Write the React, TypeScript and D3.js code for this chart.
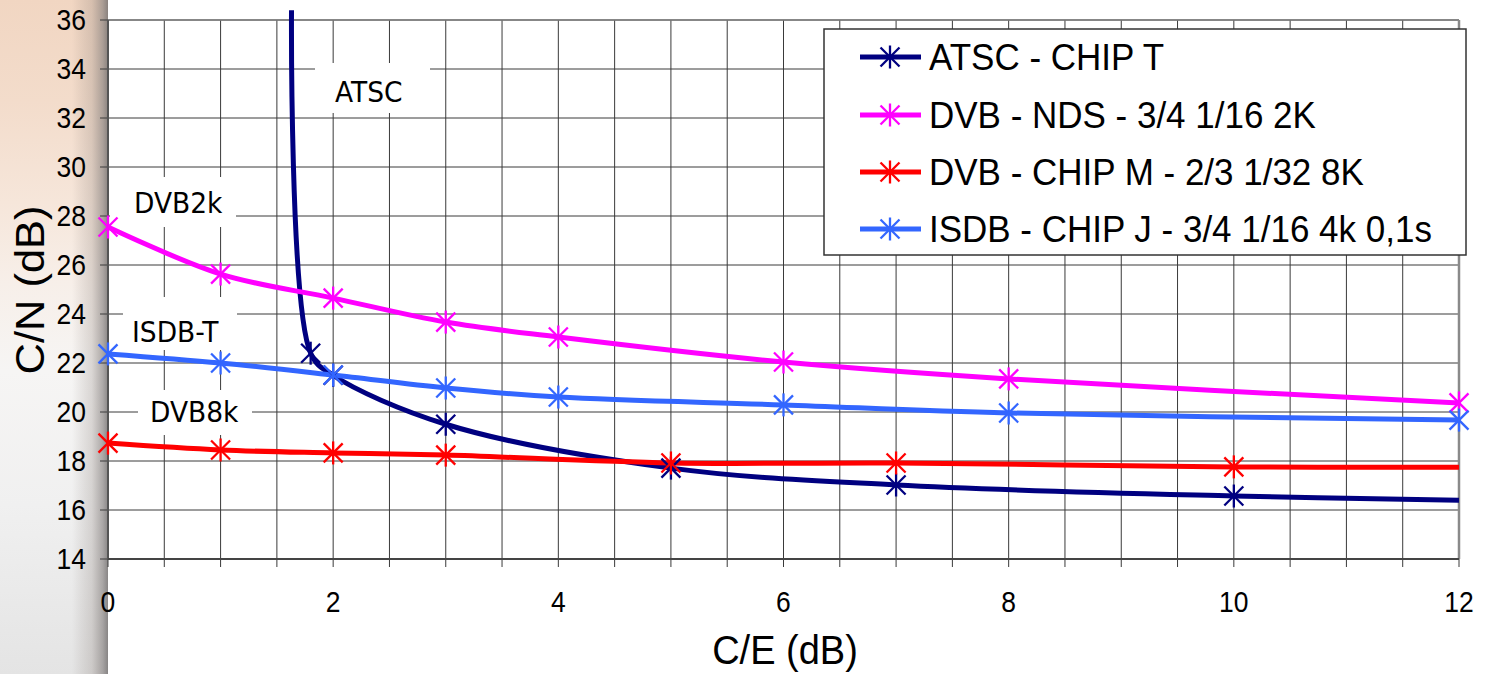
import React, { useEffect } from "react";
import * as d3 from "d3";

// ---------- data ----------
const xTicks = [0, 2, 4, 6, 8, 10, 12];
const yTicks = [14, 16, 18, 20, 22, 24, 26, 28, 30, 32, 34, 36];

const atscX = [1.63, 1.8, 2, 3, 5, 7, 10, 12];
const atscY = [36.4, 22.4, 21.5, 19.5, 17.71, 17.02, 16.57, 16.4];
const atscMarks = [1.8, 2, 3, 5, 7, 10];

const dvbNdsX = [0, 1, 2, 3, 4, 6, 8, 12];
const dvbNdsY = [27.55, 25.63, 24.65, 23.67, 23.06, 22.04, 21.35, 20.37];
const dvbNdsMarks = [0, 1, 2, 3, 4, 6, 8, 12];

const dvbChipX = [0, 1, 2, 3, 5, 7, 10, 12];
const dvbChipY = [18.73, 18.45, 18.33, 18.24, 17.92, 17.92, 17.76, 17.75];
const dvbChipMarks = [0, 1, 2, 3, 5, 7, 10];

const isdbX = [0, 1, 2, 3, 4, 6, 8, 12];
const isdbY = [22.37, 22.0, 21.51, 20.98, 20.61, 20.29, 19.96, 19.67];
const isdbMarks = [0, 1, 2, 3, 4, 6, 8, 12];

const seriesNames = [
  "ATSC - CHIP T",
  "DVB - NDS - 3/4 1/16 2K",
  "DVB - CHIP M - 2/3 1/32 8K",
  "ISDB - CHIP J - 3/4 1/16 4k 0,1s",
];

const annotations = ["ATSC", "DVB2k", "ISDB-T", "DVB8k"];
const xTitle = "C/E (dB)";
const yTitle = "C/N (dB)";

// ---------- layout ----------
const W = 1489;
const H = 674;
const colors = ["#000080", "#FF00FF", "#FF0000", "#3366FF"];

const x = d3.scaleLinear().domain([0, 12]).range([108, 1459]);
const y = d3.scaleLinear().domain([14, 36]).range([559, 20]);

const series = [
  { xs: atscX, ys: atscY, marks: atscMarks },
  { xs: dvbNdsX, ys: dvbNdsY, marks: dvbNdsMarks },
  { xs: dvbChipX, ys: dvbChipY, marks: dvbChipMarks },
  { xs: isdbX, ys: isdbY, marks: isdbMarks },
];

const lineGen = d3
  .line<[number, number]>()
  .x((d) => x(d[0]))
  .y((d) => y(d[1]))
  .curve(d3.curveCatmullRom.alpha(0.5));

function Star({ cx, cy, color }: { cx: number; cy: number; color: string }) {
  const a = 9.5;
  const v = 11.5;
  return (
    <g stroke={color} strokeWidth={2.3} fill="none">
      <line x1={cx} y1={cy - v} x2={cx} y2={cy + v} />
      <line x1={cx - a} y1={cy - a} x2={cx + a} y2={cy + a} />
      <line x1={cx - a} y1={cy + a} x2={cx + a} y2={cy - a} />
    </g>
  );
}

const FONT = "'Liberation Sans', Arial, sans-serif";
const LABEL_FONT = "'DejaVu Sans', Verdana, sans-serif";

function sc(px: number, py: number, sx: number, sy: number) {
  return `translate(${px},${py}) scale(${sx},${sy}) translate(${-px},${-py})`;
}

export default function App() {
  useEffect(() => {
    document.body.style.margin = "0";
  }, []);

  const minorX = d3.range(0, 12.001, 0.5);

  const labelBoxes = [
    { x0: 315, y0: 63, x1: 430, y1: 113, tx: 335, ty: 102 },
    { x0: 110, y0: 177, x1: 236, y1: 227, tx: 134, ty: 213 },
    { x0: 123, y0: 297, x1: 237, y1: 350, tx: 132, ty: 342 },
    { x0: 138, y0: 390, x1: 252, y1: 435, tx: 150, ty: 422 },
  ];

  const legendRows = [57, 115, 172, 229];

  return (
    <svg
      width={W}
      height={H}
      style={{ position: "absolute", left: 0, top: 0, background: "#fff" }}
    >
      <defs>
        <linearGradient id="bgV" x1="0" y1="0" x2="0" y2="1">
          <stop offset="0" stopColor="#f1d6c2" />
          <stop offset="0.15" stopColor="#f3dccb" />
          <stop offset="0.3" stopColor="#f6e6da" />
          <stop offset="0.42" stopColor="#f7efe9" />
          <stop offset="0.55" stopColor="#f6f5f4" />
          <stop offset="0.75" stopColor="#f0f0f0" />
          <stop offset="1" stopColor="#e4e4e4" />
        </linearGradient>
        <linearGradient id="bandH" x1="0" y1="0" x2="1" y2="0">
          <stop offset="0" stopColor="#7a6e68" stopOpacity="0" />
          <stop offset="0.55" stopColor="#857a74" stopOpacity="0.25" />
          <stop offset="0.85" stopColor="#7d7877" stopOpacity="0.6" />
          <stop offset="1" stopColor="#6f6c6c" stopOpacity="0.8" />
        </linearGradient>
      </defs>

      {/* left decorative background */}
      <rect x={0} y={0} width={108} height={H} fill="url(#bgV)" />
      <rect x={72} y={0} width={36} height={H} fill="url(#bandH)" />

      {/* plot area */}
      <rect x={x(0)} y={y(36)} width={x(12) - x(0)} height={y(14) - y(36)} fill="#fff" />

      {/* vertical grid lines */}
      {minorX.map((v) => (
        <line
          key={"vg" + v}
          x1={x(v)}
          x2={x(v)}
          y1={y(36)}
          y2={y(14) + 8}
          stroke="#3a3a3a"
          strokeWidth={1}
        />
      ))}
      {/* horizontal grid lines */}
      {yTicks.map((v) => (
        <line
          key={"hg" + v}
          x1={x(0) - 8}
          x2={x(12)}
          y1={y(v)}
          y2={y(v)}
          stroke="#3a3a3a"
          strokeWidth={1}
        />
      ))}
      {/* top border */}
      <line x1={x(0)} x2={x(12)} y1={y(36)} y2={y(36)} stroke="#808080" strokeWidth={1.5} />
      {/* right border */}
      <line x1={x(12)} x2={x(12)} y1={y(36)} y2={y(14)} stroke="#8a8a8a" strokeWidth={2.5} />
      {/* axes */}
      <line x1={x(0)} x2={x(0)} y1={y(36)} y2={y(14)} stroke="#555" strokeWidth={2} />
      <line x1={x(0)} x2={x(12)} y1={y(14)} y2={y(14)} stroke="#444" strokeWidth={2} />

      {/* annotation label boxes */}
      {labelBoxes.map((b, i) => (
        <g key={"lb" + i}>
          <rect x={b.x0} y={b.y0} width={b.x1 - b.x0} height={b.y1 - b.y0} fill="#fff" />
          <text
            x={b.tx}
            y={b.ty}
            fontFamily={LABEL_FONT}
            fontSize={25}
            fill="#000"
            transform={sc(b.tx, b.ty, 1.06, 1.1)}
          >
            {annotations[i]}
          </text>
        </g>
      ))}

      {/* series lines */}
      {series.map((s, i) => (
        <path
          key={"ln" + i}
          d={lineGen(s.xs.map((v, j) => [v, s.ys[j]] as [number, number])) || ""}
          fill="none"
          stroke={colors[i]}
          strokeWidth={5}
          strokeLinejoin="round"
        />
      ))}
      {/* markers */}
      {series.map((s, i) =>
        s.xs.map((v, j) =>
          s.marks.includes(v) ? (
            <Star key={"mk" + i + "-" + j} cx={x(v)} cy={y(s.ys[j])} color={colors[i]} />
          ) : null
        )
      )}

      {/* y tick labels */}
      {yTicks.map((v) => (
        <text
          key={"yt" + v}
          x={86}
          y={y(v) + 10}
          textAnchor="end"
          fontFamily={FONT}
          fontSize={26.5}
          fill="#000"
          transform={sc(86, y(v) + 10, 1, 1.12)}
        >
          {v}
        </text>
      ))}
      {/* x tick labels */}
      {xTicks.map((v) => (
        <text
          key={"xt" + v}
          x={x(v)}
          y={612}
          textAnchor="middle"
          fontFamily={FONT}
          fontSize={26.5}
          fill="#000"
          transform={sc(x(v), 612, 1, 1.12)}
        >
          {v}
        </text>
      ))}

      {/* axis titles */}
      <text
        x={785}
        y={664}
        textAnchor="middle"
        fontFamily={FONT}
        fontSize={38}
        fill="#000"
        transform={sc(785, 664, 1, 1.06)}
      >
        {xTitle}
      </text>
      <text
        x={0}
        y={0}
        textAnchor="middle"
        fontFamily={FONT}
        fontSize={41}
        fill="#000"
        transform={`translate(44,290) rotate(-90) scale(1.06,1)`}
      >
        {yTitle}
      </text>

      {/* legend */}
      <rect x={824} y={29} width={642} height={226} fill="#fff" stroke="#333" strokeWidth={1.5} />
      {seriesNames.map((name, i) => (
        <g key={"lg" + i}>
          <line x1={860} x2={921} y1={legendRows[i]} y2={legendRows[i]} stroke={colors[i]} strokeWidth={5} />
          <Star cx={890} cy={legendRows[i]} color={colors[i]} />
          <text
            x={929}
            y={legendRows[i] + 13}
            fontFamily={FONT}
            fontSize={35}
            fill="#000"
            transform={sc(929, legendRows[i] + 13, 1, 1.08)}
          >
            {name}
          </text>
        </g>
      ))}
    </svg>
  );
}
